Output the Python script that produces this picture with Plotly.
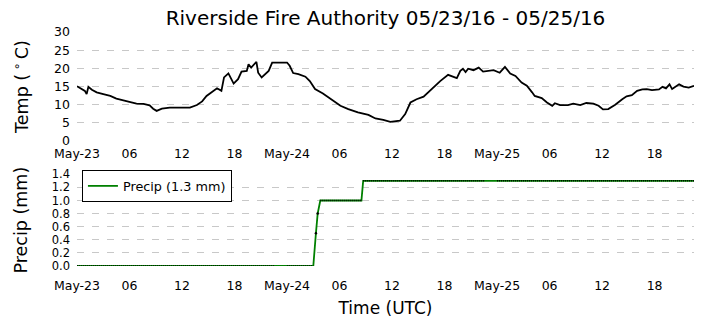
import pandas as pd
import plotly.graph_objects as go
from plotly.subplots import make_subplots

# ---- data (hours since 2016-05-23 00:00 UTC) ----
start = pd.Timestamp("2016-05-23 00:00")

temp_hours = [0, 0.5, 0.9, 1.1, 1.3, 1.7, 2.25, 3.0, 3.8, 4.5, 5.3, 6.1, 6.8, 7.6, 8.3, 8.7,
              9.1, 9.7, 10.6, 11.8, 12.9, 13.7, 14.3, 14.8, 15.4, 16.0, 16.5, 16.8, 17.3,
              17.9, 18.4, 18.8, 19.4, 19.6, 19.9, 20.5, 20.7, 21.1, 21.9, 22.3, 23.0, 24.0,
              24.3, 24.7, 25.3, 26.1, 26.6, 27.2, 28.1, 29.1, 30.1, 31.0, 32.1, 33.3, 34.1,
              35.0, 35.8, 36.9, 37.5, 38.1, 38.8, 39.6, 40.3, 41.1, 41.5, 42.4, 43.4, 43.8,
              44.1, 44.4, 44.7, 45.3, 45.9, 46.4, 47.6, 48.3, 48.9, 49.5, 50.1, 50.8, 51.4,
              52.0, 52.3, 53.1, 53.7, 54.3, 54.6, 55.2, 56.1, 56.7, 57.5, 58.2, 59.0, 59.6,
              60.1, 60.7, 61.5, 62.3, 62.8, 63.4, 64.0, 64.6, 65.1, 65.7, 66.5, 66.9, 67.3,
              67.7, 68.0, 68.8, 69.3, 69.9, 70.5]
temp_vals = [15.1, 14.3, 13.8, 12.9, 14.9, 14.1, 13.4, 12.9, 12.4, 11.7, 11.1, 10.7, 10.3, 10.2, 9.8, 8.9,
             8.3, 8.9, 9.2, 9.2, 9.2, 9.9, 10.9, 12.4, 13.4, 14.5, 13.8, 17.5, 18.6,
             15.8, 17.0, 19.1, 19.3, 21.1, 20.2, 21.8, 18.8, 17.5, 19.3, 21.6, 21.6, 21.6,
             20.7, 18.7, 18.4, 17.7, 16.5, 14.3, 13.1, 11.3, 9.7, 8.8, 7.9, 7.2, 6.2,
             5.8, 5.3, 5.6, 7.4, 10.6, 11.5, 12.2, 13.8, 15.6, 16.5, 18.2, 17.3, 19.3,
             19.9, 19.0, 19.9, 19.5, 20.2, 19.1, 19.5, 18.8, 20.4, 18.6, 17.9, 16.1, 15.2,
             13.4, 12.4, 11.8, 10.6, 9.7, 10.4, 9.9, 9.9, 10.3, 9.9, 10.5, 10.3, 9.7,
             8.7, 8.8, 10.0, 11.5, 12.3, 12.6, 13.8, 14.2, 14.3, 14.0, 14.2, 14.9, 14.5,
             15.6, 14.3, 15.6, 15.0, 14.7, 15.2]

precip_hours = [0, 22.6, 24.0, 27.0, 27.3, 27.5, 27.8, 32.5, 32.7, 46.6, 48.0, 70.5]
precip_vals = [0.0, 0.0, 0.0, 0.0, 0.5, 0.8, 1.0, 1.0, 1.3, 1.3, 1.3, 1.3]
# periods with no observations (no markers drawn)
gap_periods = [(22.6, 24.0), (46.6, 48.0)]
single_obs = [(27.3, 0.5), (27.5, 0.8)]

tick_hours = [0, 6, 12, 18, 24, 30, 36, 42, 48, 54, 60, 66]
tick_labels = ["May-23", "06", "12", "18", "May-24", "06", "12", "18", "May-25", "06", "12", "18"]
temp_ticks = [0, 5, 10, 15, 20, 25, 30]
precip_ticks = [0.0, 0.2, 0.4, 0.6, 0.8, 1.0, 1.2, 1.4]

title = "Riverside Fire Authority 05/23/16 - 05/25/16"
precip_total = 1.3


def to_time(hours):
    return [start + pd.Timedelta(minutes=round(h * 60)) for h in hours]


t_temp = to_time(temp_hours)
t_precip = to_time(precip_hours)
tickvals = to_time(tick_hours)

# overlay of observation markers (dotted black) on constant segments with data
ov_x, ov_y = [], []
for i in range(len(precip_hours) - 1):
    h0, h1 = precip_hours[i], precip_hours[i + 1]
    v0, v1 = precip_vals[i], precip_vals[i + 1]
    in_gap = any(abs(h0 - a) < 1e-9 and abs(h1 - b) < 1e-9 for a, b in gap_periods)
    if v0 == v1 and not in_gap:
        ov_x += to_time([h0, h1]) + [None]
        ov_y += [v0, v1, None]

FONT = "DejaVu Sans"
GRID = "#c8c8c8"
TICK = 12.5

fig = make_subplots(rows=2, cols=1, shared_xaxes=False, vertical_spacing=0.14)

fig.add_trace(go.Scatter(x=t_temp, y=temp_vals, mode="lines",
                         line=dict(color="black", width=1.8), showlegend=False),
              row=1, col=1)

fig.add_trace(go.Scatter(x=t_precip, y=precip_vals, mode="lines",
                         line=dict(color="#008000", width=1.8),
                         name=f"Precip ({precip_total} mm)", showlegend=True),
              row=2, col=1)
fig.add_trace(go.Scatter(x=ov_x, y=ov_y, mode="lines", connectgaps=False,
                         line=dict(color="black", width=1.6, dash="1px,1px"),
                         showlegend=False, hoverinfo="skip"),
              row=2, col=1)
fig.add_trace(go.Scatter(x=to_time([h for h, _ in single_obs]), y=[v for _, v in single_obs],
                         mode="markers", marker=dict(color="black", size=2.5),
                         showlegend=False, hoverinfo="skip"),
              row=2, col=1)

xrange_ = [t_temp[0], t_temp[-1]]
xaxis_common = dict(range=xrange_, tickvals=tickvals, ticktext=tick_labels, showgrid=False,
                    zeroline=False, showline=False, ticks="",
                    tickfont=dict(family=FONT, size=TICK, color="black"))

fig.update_layout(
    width=705, height=328,
    margin=dict(l=77, r=11, t=32, b=62, autoexpand=False),
    paper_bgcolor="white", plot_bgcolor="white",
    font=dict(family=FONT, color="black"),
    title=dict(text=title, x=0.5, xref="paper", y=1 - 18 / 328, yanchor="middle",
               font=dict(family=FONT, size=20, color="black")),
    xaxis=dict(**xaxis_common, ticklabelstandoff=3),
    xaxis2=dict(**xaxis_common, ticklabelstandoff=10,
                title=dict(text="Time (UTC)", standoff=10,
                           font=dict(family=FONT, size=17, color="black"))),
    yaxis=dict(domain=[0.534, 1.0], range=[0, 30], tickvals=temp_ticks,
               showgrid=True, gridcolor=GRID, griddash="7px,8px", gridwidth=1,
               zeroline=False, showline=False, ticks="", ticklabelstandoff=6,
               tickfont=dict(family=FONT, size=TICK, color="black"),
               title=dict(text="Temp (\u2009<sup>∘</sup>\u2009C)", standoff=20,
                          font=dict(family=FONT, size=17.5, color="black"))),
    yaxis2=dict(domain=[0.0, 0.392], range=[0, 1.4], tickvals=precip_ticks,
                tickformat=".1f",
                showgrid=True, gridcolor=GRID, griddash="7px,8px", gridwidth=1,
                zeroline=False, showline=False, ticks="", ticklabelstandoff=6,
                tickfont=dict(family=FONT, size=11.5, color="black"),
                title=dict(text="Precip (mm)", standoff=19,
                           font=dict(family=FONT, size=17.5, color="black"))),
    legend=dict(x=0.008, y=0.41, xanchor="left", yanchor="top",
                bordercolor="black", borderwidth=1, bgcolor="white",
                font=dict(family=FONT, size=12.8, color="black")),
)

fig.write_html("out.html")
